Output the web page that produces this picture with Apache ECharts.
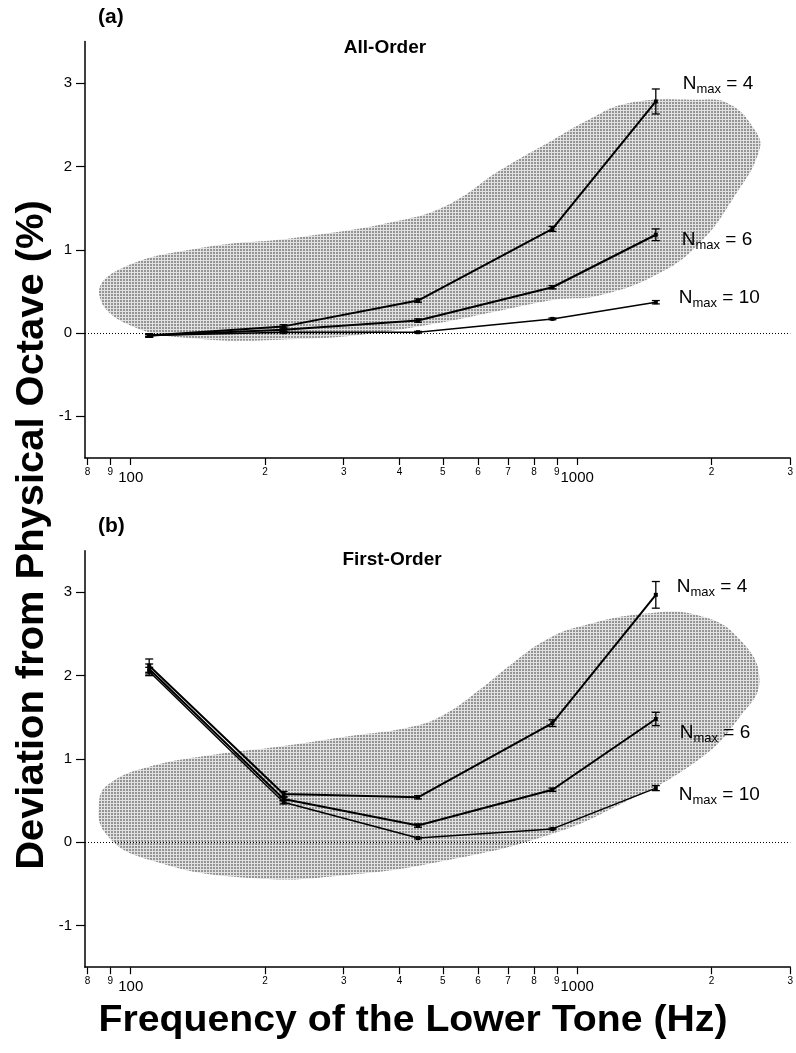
<!DOCTYPE html>
<html>
<head>
<meta charset="utf-8">
<script src="https://cdn.jsdelivr.net/npm/echarts@6/dist/echarts.min.js"></script>
<style>
html,body{margin:0;padding:0;background:#fff}
#main{width:796px;height:1053px}
</style>
</head>
<body>
<div id="main"></div>
<script>
// frequency of the lower tone (Hz)
var freqs = [110, 220, 440, 880, 1500];

// (a) All-Order : deviation (%) and error half-widths
var allN4 = [-0.03, 0.08, 0.39, 1.25, 2.78];
var allN6 = [-0.03, 0.04, 0.15, 0.55, 1.18];
var allN10 = [-0.03, 0.01, 0.01, 0.17, 0.37];
var allErrN4 = [0.02, 0.02, 0.02, 0.03, 0.15];
var allErrN6 = [0.02, 0.02, 0.02, 0.02, 0.07];
var allErrN10 = [0.01, 0.01, 0.01, 0.01, 0.02];

// (b) First-Order
var firstN4 = [2.12, 0.58, 0.54, 1.43, 2.97];
var firstN6 = [2.08, 0.52, 0.20, 0.63, 1.48];
var firstN10 = [2.05, 0.48, 0.05, 0.16, 0.65];
var firstErrN4 = [0.08, 0.03, 0.02, 0.04, 0.16];
var firstErrN6 = [0.06, 0.02, 0.02, 0.02, 0.08];
var firstErrN10 = [0.05, 0.02, 0.01, 0.01, 0.03];

// shaded region outlines (frequency, deviation)
var blobAFreq = [85, 94, 143, 239, 400, 518, 670, 870, 1050, 1300, 1880, 2190, 2490, 2560, 2225, 1880, 1530, 1120, 890, 698, 487, 338, 236, 144, 99];
var blobAVal  = [0.46, 0.76, 1.02, 1.15, 1.35, 1.55, 1.95, 2.3, 2.55, 2.76, 2.8, 2.75, 2.45, 2.2, 1.6, 1.08, 0.72, 0.45, 0.4, 0.29, 0.12, -0.01, -0.07, -0.07, 0.1];
var blobBFreq = [85, 90, 109, 153, 216, 305, 428, 510, 604, 717, 853, 1012, 1450, 1880, 2300, 2560, 2310, 1880, 1243, 867, 518, 309, 185, 110, 88];
var blobBVal  = [0.5, 0.71, 0.9, 1.05, 1.15, 1.27, 1.39, 1.55, 1.83, 2.15, 2.43, 2.59, 2.75, 2.72, 2.45, 1.95, 1.5, 1.0, 0.45, 0.09, -0.21, -0.39, -0.43, -0.21, 0.1];

// axis ticks
var xTickValues = [80, 90, 100, 200, 300, 400, 500, 600, 700, 800, 900, 1000, 2000, 3000];
var yTickValues = [-1, 0, 1, 2, 3];

var seriesLabels = ['4', '6', '10'];

var FONT = '"Liberation Sans", Arial, Helvetica, sans-serif';

// stipple pattern for the shaded area
var patCanvas = document.createElement('canvas');
patCanvas.width = 3; patCanvas.height = 3;
var pctx = patCanvas.getContext('2d');
pctx.fillStyle = '#e2e2e2'; pctx.fillRect(0, 0, 3, 3);
pctx.fillStyle = '#949494'; pctx.fillRect(0, 0, 2, 2);
var stipple = {image: patCanvas, repeat: 'repeat'};

function zip(xs, ys) {
    return xs.map(function (x, i) { return [x, ys[i]]; });
}

function xAxisFor(idx) {
    return {
        gridIndex: idx, type: 'log', logBase: 10, min: 79, max: 3000,
        axisLine: {show: true, onZero: false, lineStyle: {color: '#000', width: 1.5}},
        axisTick: {show: true, length: 7, customValues: xTickValues, lineStyle: {color: '#000', width: 1.2}},
        axisLabel: {
            show: true, customValues: xTickValues, margin: 9, color: '#000', fontFamily: FONT,
            formatter: function (v) {
                v = Math.round(v);
                if (v === 100 || v === 1000) return '{big|' + v + '}';
                return '{small|' + String(v).charAt(0) + '}';
            },
            rich: {
                big: {fontSize: 15, fontFamily: FONT, color: '#000', padding: [3, 0, 0, 0]},
                small: {fontSize: 10, fontFamily: FONT, color: '#000'}
            }
        },
        splitLine: {show: false}, minorTick: {show: false}
    };
}

function yAxisFor(idx) {
    return {
        gridIndex: idx, type: 'value', min: -1.5, max: 3.5,
        axisLine: {show: true, onZero: false, lineStyle: {color: '#000', width: 1.5}},
        axisTick: {show: true, length: 9, customValues: yTickValues, lineStyle: {color: '#000', width: 1.2}},
        axisLabel: {show: true, customValues: yTickValues, margin: 13, color: '#000', fontSize: 15, fontFamily: FONT},
        splitLine: {show: false}
    };
}

function blobSeries(idx, fs, vs) {
    return {
        type: 'custom', xAxisIndex: idx, yAxisIndex: idx, silent: true, z: 1,
        data: [[fs[0], vs[0]]],
        renderItem: function (params, api) {
            var pts = fs.map(function (f, i) { return api.coord([f, vs[i]]); });
            return {type: 'polygon', shape: {points: pts, smooth: 0.45}, style: {fill: stipple}};
        }
    };
}

function errSeries(idx, ys, errs) {
    var data = freqs.map(function (f, i) { return [f, ys[i] - errs[i], ys[i] + errs[i]]; });
    return {
        type: 'custom', xAxisIndex: idx, yAxisIndex: idx, silent: true, z: 4,
        encode: {x: 0, y: [1, 2]},
        data: data,
        renderItem: function (params, api) {
            var p1 = api.coord([api.value(0), api.value(1)]);
            var p2 = api.coord([api.value(0), api.value(2)]);
            var w = 4;
            var st = {stroke: '#000', lineWidth: 1.3};
            return {type: 'group', children: [
                {type: 'line', shape: {x1: p1[0], y1: p1[1], x2: p2[0], y2: p2[1]}, style: st},
                {type: 'line', shape: {x1: p1[0] - w, y1: p1[1], x2: p1[0] + w, y2: p1[1]}, style: st},
                {type: 'line', shape: {x1: p2[0] - w, y1: p2[1], x2: p2[0] + w, y2: p2[1]}, style: st}
            ]};
        }
    };
}

function lineSeries(idx, name, ys, width, labelDist, labelOffset) {
    var data = zip(freqs, ys).map(function (d, i) {
        if (i !== freqs.length - 1) return d;
        return {value: d, label: {
            show: true, position: 'right', distance: labelDist, offset: labelOffset,
            formatter: '{n|N}{s|max}{n| = ' + name + '}',
            rich: {
                n: {fontSize: 19, fontFamily: FONT, color: '#000'},
                s: {fontSize: 13, fontFamily: FONT, color: '#000', padding: [11, 0, 0, 0]}
            }
        }};
    });
    return {
        type: 'line', xAxisIndex: idx, yAxisIndex: idx, z: 3,
        data: data, symbol: 'rect', symbolSize: 4, showSymbol: true,
        lineStyle: {color: '#000', width: width},
        itemStyle: {color: '#000'},
        label: {show: false},
        silent: true, animation: false
    };
}

function zeroLine(idx) {
    return {
        type: 'line', xAxisIndex: idx, yAxisIndex: idx, data: [], silent: true,
        markLine: {
            silent: true, symbol: ['none', 'none'], label: {show: false},
            lineStyle: {color: '#000', width: 1, type: [1, 2]},
            data: [{yAxis: 0}]
        }
    };
}

var chart = echarts.init(document.getElementById('main'), null, {renderer: 'canvas'});

var option = {
    animation: false,
    backgroundColor: '#fff',
    grid: [
        {left: 85, right: 5, top: 41.5, height: 416.5},
        {left: 85, right: 5, top: 550.7, height: 416.5}
    ],
    xAxis: [xAxisFor(0), xAxisFor(1)],
    yAxis: [yAxisFor(0), yAxisFor(1)],
    series: [
        blobSeries(0, blobAFreq, blobAVal),
        blobSeries(1, blobBFreq, blobBVal),
        zeroLine(0),
        zeroLine(1),
        lineSeries(0, seriesLabels[0], allN4, 2, 25, [0, -18]),
        lineSeries(0, seriesLabels[1], allN6, 2, 24, [0, 5]),
        lineSeries(0, seriesLabels[2], allN10, 1.5, 21, [0, -4]),
        errSeries(0, allN4, allErrN4),
        errSeries(0, allN6, allErrN6),
        errSeries(0, allN10, allErrN10),
        lineSeries(1, seriesLabels[0], firstN4, 2, 19, [0, -8]),
        lineSeries(1, seriesLabels[1], firstN6, 2, 22, [0, 14]),
        lineSeries(1, seriesLabels[2], firstN10, 1.5, 21, [0, 7]),
        errSeries(1, firstN4, firstErrN4),
        errSeries(1, firstN6, firstErrN6),
        errSeries(1, firstN10, firstErrN10)
    ],
    graphic: [
        {type: 'text', left: 98, top: 7, style: {text: '(a)', font: 'bold 21px ' + FONT, fill: '#000'}},
        {type: 'text', left: 98, top: 516, style: {text: '(b)', font: 'bold 21px ' + FONT, fill: '#000'}},
        {type: 'text', x: 385, y: 48, style: {text: 'All-Order', font: 'bold 19px ' + FONT, fill: '#000', align: 'center', verticalAlign: 'middle'}},
        {type: 'text', x: 392, y: 560, style: {text: 'First-Order', font: 'bold 19px ' + FONT, fill: '#000', align: 'center', verticalAlign: 'middle'}},
        {type: 'text', x: 33, y: 535, rotation: Math.PI / 2, scaleX: 1.05,
            style: {text: 'Deviation from Physical Octave (%)', font: 'bold 38px ' + FONT, fill: '#000', align: 'center', verticalAlign: 'middle'}},
        {type: 'text', x: 413, y: 1021, scaleX: 1.06,
            style: {text: 'Frequency of the Lower Tone (Hz)', font: 'bold 37px ' + FONT, fill: '#000', align: 'center', verticalAlign: 'middle'}}
    ]
};

chart.setOption(option);
</script>
</body>
</html>
